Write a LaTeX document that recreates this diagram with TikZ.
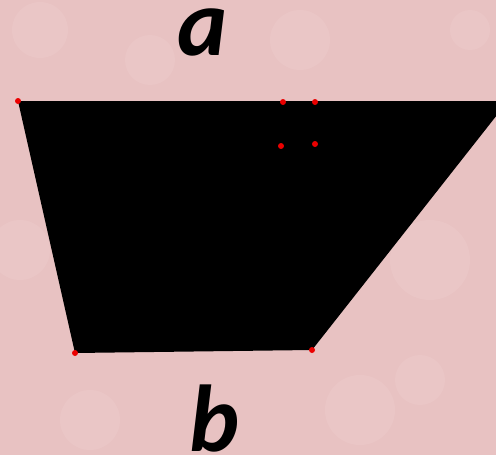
\documentclass[tikz,border=0pt]{standalone}
\usepackage{fontspec}
\newfontfamily\labelfont{Carlito}
\usetikzlibrary{positioning}
\definecolor{paper}{RGB}{232,194,194}
\definecolor{paperlight}{RGB}{240,208,208}
\definecolor{dotred}{RGB}{235,0,0}

\begin{document}
\begin{tikzpicture}[
    x=1pt, y=-1pt,
    corner/.style={circle, fill=dotred, inner sep=0pt, minimum size=6pt},
    letter/.style={font=\labelfont\fontsize{95}{95}\selectfont\bfseries\itshape, inner sep=0pt}
]

% --- background ---
\fill[paper] (0,0) rectangle (496,455);
\useasboundingbox (0,0) rectangle (496,455);
\foreach \px/\py/\r in {40/30/28, 120/200/35, 300/40/30, 430/260/40, 90/420/30, 360/410/35, 250/250/25, 470/30/20, 20/250/30, 150/60/25, 420/380/25}
    \fill[paperlight, opacity=0.3] (\px,\py) circle (\r);

% --- trapezoid ---
\coordinate (tl) at (18,101);
\coordinate (tr) at (508,101);
\coordinate (br) at (312,350);
\coordinate (bl) at (75,353);
\begin{scope}
    \clip (0,0) rectangle (496,455);
    \fill[black] (tl) -- (tr) -- (br) -- (bl) -- cycle;
\end{scope}

% --- points ---
\node[corner] (p1) at (tl) {};
\node[corner] (p2) at (283,102) {};
\node[corner] (p3) at (315,102) {};
\node[corner] (p4) at (281,146) {};
\node[corner] (p5) at (315,144) {};
\node[corner] (p6) at (bl) {};
\node[corner] (p7) at (br) {};

% --- labels ---
\node[letter] (a) at (203,32) {a};
\node[letter] (b) at (215,419) {b};

\end{tikzpicture}
\end{document}
